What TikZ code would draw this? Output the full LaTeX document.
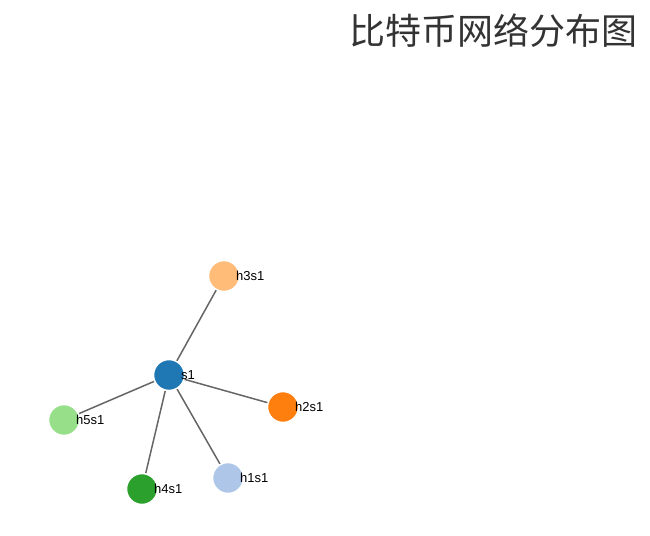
\documentclass[tikz,border=0pt]{standalone}
\usepackage{fontspec}
\setmainfont{Liberation Sans}
\newfontfamily\cjk{Noto Sans CJK SC}
\definecolor{cs1}{HTML}{1F77B4}
\definecolor{ch1}{HTML}{AEC7E8}
\definecolor{ch2}{HTML}{FF7F0E}
\definecolor{ch3}{HTML}{FFBB78}
\definecolor{ch4}{HTML}{2CA02C}
\definecolor{ch5}{HTML}{98DF8A}
\definecolor{edgecol}{HTML}{666666}
\definecolor{titlecol}{HTML}{333333}
\begin{document}
\begin{tikzpicture}[x=1pt,y=-1pt,
  netnode/.style={circle,minimum size=31pt,inner sep=0pt,draw=white,line width=1.5pt},
  netlabel/.style={anchor=base west,inner sep=0pt,font=\fontsize{13}{15}\selectfont,text=black},
  netedge/.style={draw=edgecol,line width=1.5pt}]
\useasboundingbox (0,0) rectangle (650,535);
\node[anchor=east,inner sep=0pt,text=titlecol,font=\cjk\fontsize{36}{42}\selectfont] (title) at (638,31) {比特币网络分布图};
\coordinate (ps1) at (169,375);
\coordinate (ph3) at (224,276);
\coordinate (ph2) at (283,407);
\coordinate (ph1) at (228,478);
\coordinate (ph4) at (142,489);
\coordinate (ph5) at (64,420);
\path[netedge] (ps1) -- (ph3);
\path[netedge] (ps1) -- (ph2);
\path[netedge] (ps1) -- (ph1);
\path[netedge] (ps1) -- (ph4);
\path[netedge] (ps1) -- (ph5);
\node[netnode,fill=cs1] (s1) at (ps1) {};
\node[netnode,fill=ch3] (h3s1) at (ph3) {};
\node[netnode,fill=ch2] (h2s1) at (ph2) {};
\node[netnode,fill=ch1] (h1s1) at (ph1) {};
\node[netnode,fill=ch4] (h4s1) at (ph4) {};
\node[netnode,fill=ch5] (h5s1) at (ph5) {};
\node[netlabel] (ls1) at ([xshift=12pt,yshift=-4.5pt]s1.center) {s1};
\node[netlabel] (lh3) at ([xshift=12pt,yshift=-4.5pt]h3s1.center) {h3s1};
\node[netlabel] (lh2) at ([xshift=12pt,yshift=-4.5pt]h2s1.center) {h2s1};
\node[netlabel] (lh1) at ([xshift=12pt,yshift=-4.5pt]h1s1.center) {h1s1};
\node[netlabel] (lh4) at ([xshift=12pt,yshift=-4.5pt]h4s1.center) {h4s1};
\node[netlabel] (lh5) at ([xshift=12pt,yshift=-4.5pt]h5s1.center) {h5s1};
\end{tikzpicture}
\end{document}
